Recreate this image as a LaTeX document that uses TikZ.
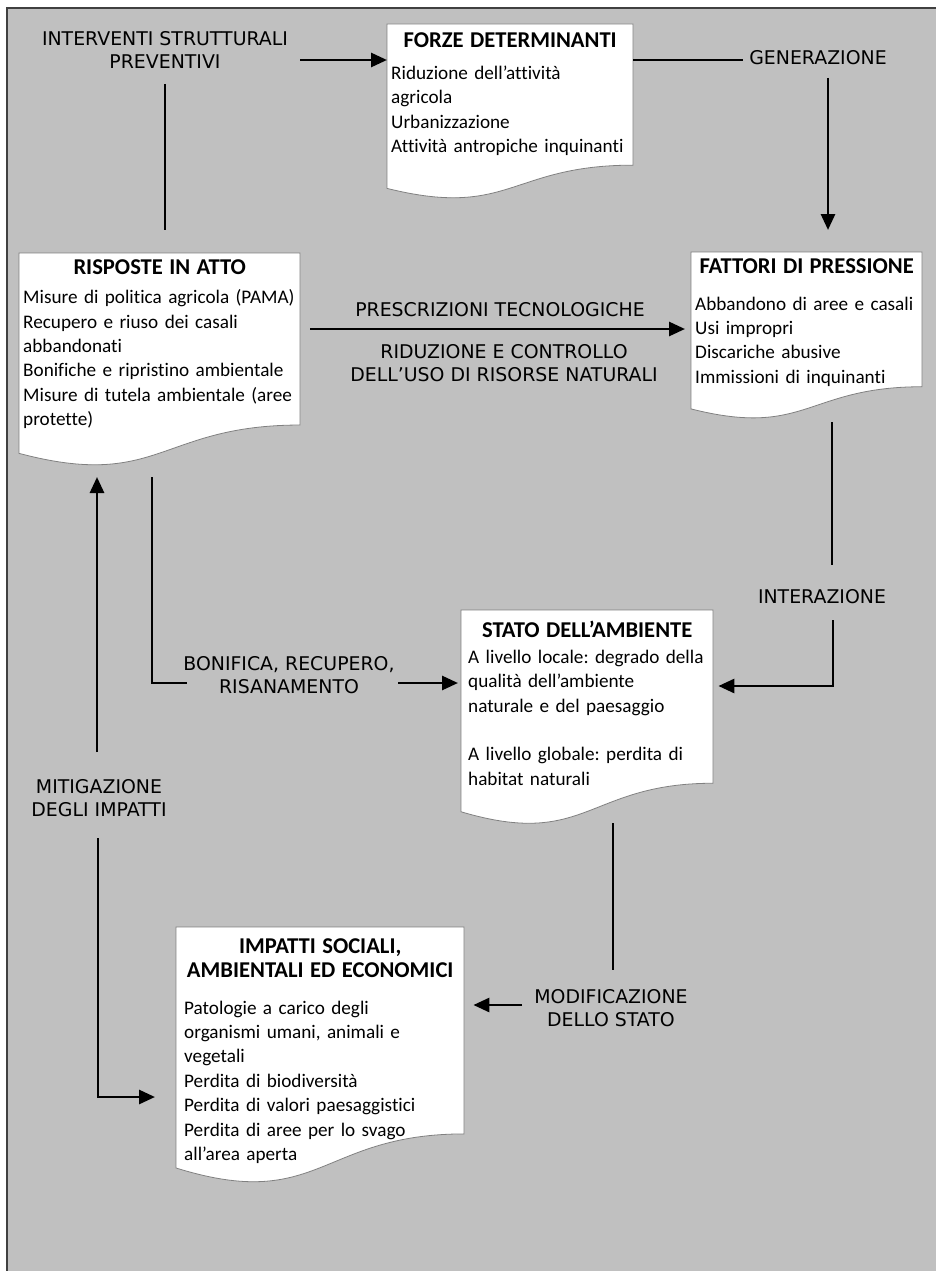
\documentclass[tikz,border=0pt]{standalone}
\usepackage{fontspec}
\setmainfont{Carlito}[Ligatures={NoCommon,TeX}]
\newfontfamily\lblfont{DejaVu Sans}
\usetikzlibrary{arrows.meta,calc}
\definecolor{fondo}{RGB}{192,192,192}
\definecolor{bordo}{RGB}{128,128,128}
\pgfdeclarelayer{bg}
\pgfsetlayers{bg,main}
\hyphenpenalty=10000
\exhyphenpenalty=10000
\frenchspacing

% titolo centrato nel riquadro
\newcommand\hd[2]{{\centering\fontsize{22.6}{24.4}\selectfont\bfseries\rule{0pt}{#1}#2\par}}
% forma "documento" sotto il nodo
\newcommand\docshape[3]{%
  \begin{pgfonlayer}{bg}
    \filldraw[fill=white, draw=bordo, line width=0.8pt]
      (#1.north west) -- ++(#2,0) -- ++(0,{0.802*#3})
      .. controls ($(#1.north west)+({0.5*#2},{0.802*#3})$) and ($(#1.north west)+({0.5*#2},{1.1075*#3})$) ..
      ($(#1.north west)+(0,{0.934*#3})$) -- cycle;
  \end{pgfonlayer}}

\tikzset{
  box/.style 2 args={anchor=north west, inner xsep=#1, inner ysep=0pt,
    text width=#2, align=left, font=\fontsize{19.2}{24.4}\selectfont},
  lbl/.style={align=center, inner sep=0pt, font=\lblfont\fontsize{18.9}{23}\selectfont},
  conn/.style={line width=2.8pt},
  arr/.style={conn, -{Triangle[length=16pt,width=14pt]}}
}

\begin{document}
\begin{tikzpicture}[x=1pt, y=-1pt]

\useasboundingbox (0,0) rectangle (935,1271);

% Sfondo
\begin{pgfonlayer}{bg}
  \fill[white] (0,0) rectangle (935,1271);
  \filldraw[fill=fondo, draw=black!75, line width=1.4pt] (7,8) rectangle (960,1300);
\end{pgfonlayer}

% Riquadri
\node[box={4pt}{238pt}] (forze) at (387,24) {\hd{23pt}{FORZE DETERMINANTI}\vspace{8pt}%
  Riduzione dell’attività\\agricola\\Urbanizzazione\\Attività antropiche inquinanti};
\docshape{forze}{246}{176}

\node[box={4pt}{273pt}] (risposte) at (19,253) {\hd{21.7pt}{RISPOSTE IN ATTO}\vspace{4.4pt}%
  Misure di politica agricola (PAMA)\\Recupero e riuso dei casali\\abbandonati\\
  Bonifiche e ripristino ambientale\\Misure di tutela ambientale (aree\\protette)};
\docshape{risposte}{281}{214.5}

\node[box={4pt}{223pt}] (fattori) at (691,252) {\hd{21pt}{FATTORI DI PRESSIONE}\vspace{12.4pt}%
  Abbandono di aree e casali\\Usi impropri\\Discariche abusive\\Immissioni di inquinanti};
\docshape{fattori}{231}{168}

\node[box={7pt}{238pt}] (stato) at (461,610) {\hd{27pt}{STATO DELL’AMBIENTE}\vspace{1.6pt}%
  A livello locale: degrado della\\qualità dell’ambiente\\naturale e del paesaggio\\[24.4pt]
  A livello globale: perdita di\\habitat naturali};
\docshape{stato}{252}{216}

\node[box={8pt}{272pt}] (impatti) at (176,927) {\hd{26pt}{IMPATTI SOCIALI,\\AMBIENTALI ED ECONOMICI}\vspace{12pt}%
  Patologie a carico degli\\organismi umani, animali e\\vegetali\\Perdita di biodiversità\\
  Perdita di valori paesaggistici\\Perdita di aree per lo svago\\all’area aperta};
\docshape{impatti}{288}{258}

% Etichette
\node[lbl] (interv) at (165,49.5) {INTERVENTI STRUTTURALI\\PREVENTIVI};
\node[lbl] (gener) at (818,57.5) {GENERAZIONE};
\node[lbl] (prescr) at (500,310) {PRESCRIZIONI TECNOLOGICHE};
\node[lbl] (riduz) at (504,363) {RIDUZIONE E CONTROLLO\\DELL’USO DI RISORSE NATURALI};
\node[lbl] (interaz) at (822,597) {INTERAZIONE};
\node[lbl] (bonif) at (289,675.5) {BONIFICA, RECUPERO,\\RISANAMENTO};
\node[lbl] (mitig) at (99,798) {MITIGAZIONE\\DEGLI IMPATTI};
\node[lbl] (modif) at (611,1008) {MODIFICAZIONE\\DELLO STATO};

% Punti liberi dei collegamenti
\coordinate (iv-e) at (300,60);
\coordinate (iv-s) at (165,84);
\coordinate (ge-w) at (743,60);
\coordinate (ge-s) at (828,78);
\coordinate (rf-a) at (310,329);
\coordinate (fa-s) at (832,422);
\coordinate (ia-n) at (832,565);
\coordinate (ia-s) at (833,620);
\coordinate (ia-c) at (833,686);
\coordinate (ri-s) at (152,477);
\coordinate (bo-c) at (152,683);
\coordinate (bo-w) at (187,683);
\coordinate (bo-e) at (398,683);
\coordinate (mi-n) at (97,752);
\coordinate (mi-t) at (97,477);
\coordinate (mi-s) at (98,838);
\coordinate (mi-c) at (98,1097);
\coordinate (st-s) at (613,823);
\coordinate (mo-n) at (613,970);
\coordinate (mo-w) at (522,1005);

% Collegamenti
\draw[arr] (iv-e) -- (iv-e -| forze.west);
\draw[conn, shorten >=23pt] (iv-s) -- (iv-s |- risposte.north);
\draw[conn] (ge-w -| forze.east) -- (ge-w);
\draw[arr, shorten >=22pt] (ge-s) -- (ge-s |- fattori.north);
\draw[arr, shorten >=6pt] (rf-a) -- (rf-a -| fattori.west);
\draw[conn] (fa-s) -- (ia-n);
\draw[arr, shorten >=5pt] (ia-s) -- (ia-c) -- (ia-c -| stato.east);
\draw[conn] (ri-s) -- (bo-c) -- (bo-w);
\draw[arr, shorten >=3pt] (bo-e) -- (bo-e -| stato.west);
\draw[arr] (mi-n) -- (mi-t);
\draw[arr, shorten >=21pt] (mi-s) -- (mi-c) -- (mi-c -| impatti.west);
\draw[conn] (st-s) -- (mo-n);
\draw[arr, shorten >=9pt] (mo-w) -- (mo-w -| impatti.east);

\end{tikzpicture}
\end{document}
